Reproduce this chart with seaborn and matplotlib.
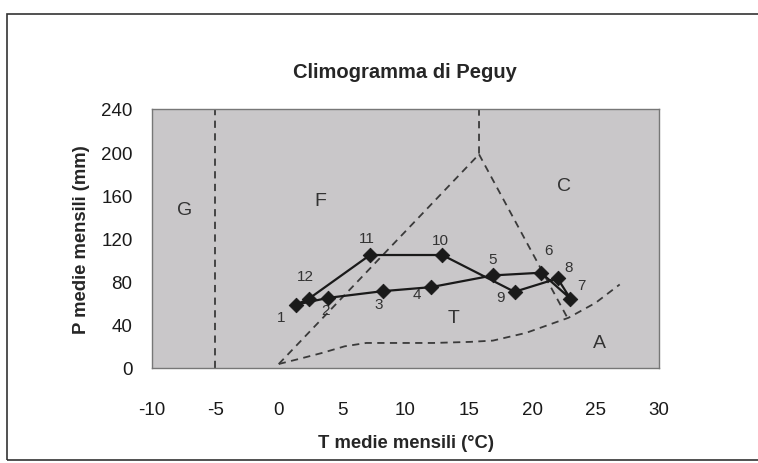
import matplotlib
matplotlib.use("Agg")
import matplotlib.pyplot as plt
import seaborn as sns
import pandas as pd
from matplotlib.patches import Rectangle

# ── Data ──────────────────────────────────────────────────────────────────────

MONTHS = [1, 2, 3, 4, 5, 6, 7, 8, 9, 10, 11, 12]
TEMP   = [1.4, 3.9, 8.2, 12.0, 16.9, 20.7, 23.0, 22.0, 18.6, 12.9, 7.2, 2.4]
PREC   = [58.8, 65.0, 71.2, 74.9, 85.8, 88.3, 64.4, 83.0, 70.6, 104.7, 104.7, 64.4]

# label offsets (points) for the month numbers
LABEL_DX = [-11, -2, -3, -10, 0, 5, 8, 8, -10, -1, -2, -3]
LABEL_DY = [-9, -9, -9, -5, 12, 16, 10, 8, -4, 11, 12, 16]

# Peguy triangle (dashed) and the vertical boundaries
TRI_T = [0.0, 15.8, 15.8]
TRI_P = [3.7, 198.0, 240.0]
TRI2_T = [15.8, 22.85]
TRI2_P = [198.0, 44.9]
COLD_T = [-5.0, -5.0]
COLD_P = [0.0, 240.0]

# lower (arid) boundary curve
ARID_T = [0.0, 1.7, 3.4, 5.2, 6.9, 12.2, 15.1, 16.9, 19.5, 21.2, 22.85, 25.0, 26.9]
ARID_P = [3.7, 8.7, 13.9, 20.1, 23.2, 23.2, 24.2, 25.4, 32.5, 39.6, 46.5, 60.4, 77.4]

ZONES   = ["G", "F", "C", "T", "A"]
ZONE_T  = [-7.4, 3.3, 22.5, 13.8, 25.3]
ZONE_P  = [147, 155, 169, 46.5, 23.2]

X_TICKS = [-10, -5, 0, 5, 10, 15, 20, 25, 30]
Y_TICKS = [0, 40, 80, 120, 160, 200, 240]


def main() -> None:
    sns.set_style("white")
    plt.rcParams["font.family"] = ["Liberation Sans", "DejaVu Sans"]
    plt.rcParams["axes.unicode_minus"] = False

    fig = plt.figure(figsize=(7.58, 4.64), dpi=100)
    ax = fig.add_axes([152 / 758, 1 - 369 / 464, 507 / 758, 259 / 464])
    ax.set_facecolor("#c9c7c9")

    dash = dict(color="#3a3a3a", linewidth=1.3, linestyle=(0, (4, 3)),
                estimator=None, sort=False)

    sns.lineplot(x=COLD_T, y=COLD_P, ax=ax, **dash)
    sns.lineplot(x=TRI_T, y=TRI_P, ax=ax, **dash)
    sns.lineplot(x=TRI2_T, y=TRI2_P, ax=ax, **dash)
    sns.lineplot(x=ARID_T, y=ARID_P, ax=ax, **dash)

    # closed monthly loop
    loop = pd.DataFrame({"T": TEMP + TEMP[:1], "P": PREC + PREC[:1]})
    sns.lineplot(data=loop, x="T", y="P", sort=False, estimator=None, ax=ax,
                 color="#1a1a1a", linewidth=1.6)
    sns.scatterplot(x=TEMP, y=PREC, marker="D", s=55, color="#1a1a1a",
                    edgecolor="#1a1a1a", ax=ax, zorder=5)

    for m, t, p, dx, dy in zip(MONTHS, TEMP, PREC, LABEL_DX, LABEL_DY):
        ax.annotate(str(m), (t, p), xytext=(dx, dy), textcoords="offset points",
                    ha="center", va="center", fontsize=11, color="#333333")

    for z, t, p in zip(ZONES, ZONE_T, ZONE_P):
        ax.text(t, p, z, ha="center", va="center", fontsize=14, color="#333333")

    ax.set_xlim(-10, 30)
    ax.set_ylim(0, 240)
    ax.set_xticks(X_TICKS)
    ax.set_yticks(Y_TICKS)
    ax.tick_params(axis="both", labelsize=13.5, length=5, width=0.8,
                   colors="#555555", labelcolor="#1a1a1a", direction="out")
    ax.tick_params(axis="x", pad=19)
    ax.tick_params(axis="y", pad=9)
    for sp in ax.spines.values():
        sp.set_color("#777777")
        sp.set_linewidth(1.0)

    ax.set_xlabel("T medie mensili (°C)", fontsize=13.3, fontweight="bold", labelpad=11)
    ax.set_ylabel("P medie mensili (mm)", fontsize=13.3, fontweight="bold", labelpad=8)
    fig.text(405 / 758, 1 - 72 / 464, "Climogramma di Peguy", ha="center",
             va="center", fontsize=14.5, fontweight="bold")

    # chart-area border
    fig.patches.append(Rectangle((7 / 758, 1 - 461 / 464), 760 / 758, 446 / 464,
                                 transform=fig.transFigure, fill=False,
                                 edgecolor="#333333", linewidth=1.2))

    fig.savefig("out.png", dpi=100, facecolor="white")
    plt.close(fig)


if __name__ == "__main__":
    main()
